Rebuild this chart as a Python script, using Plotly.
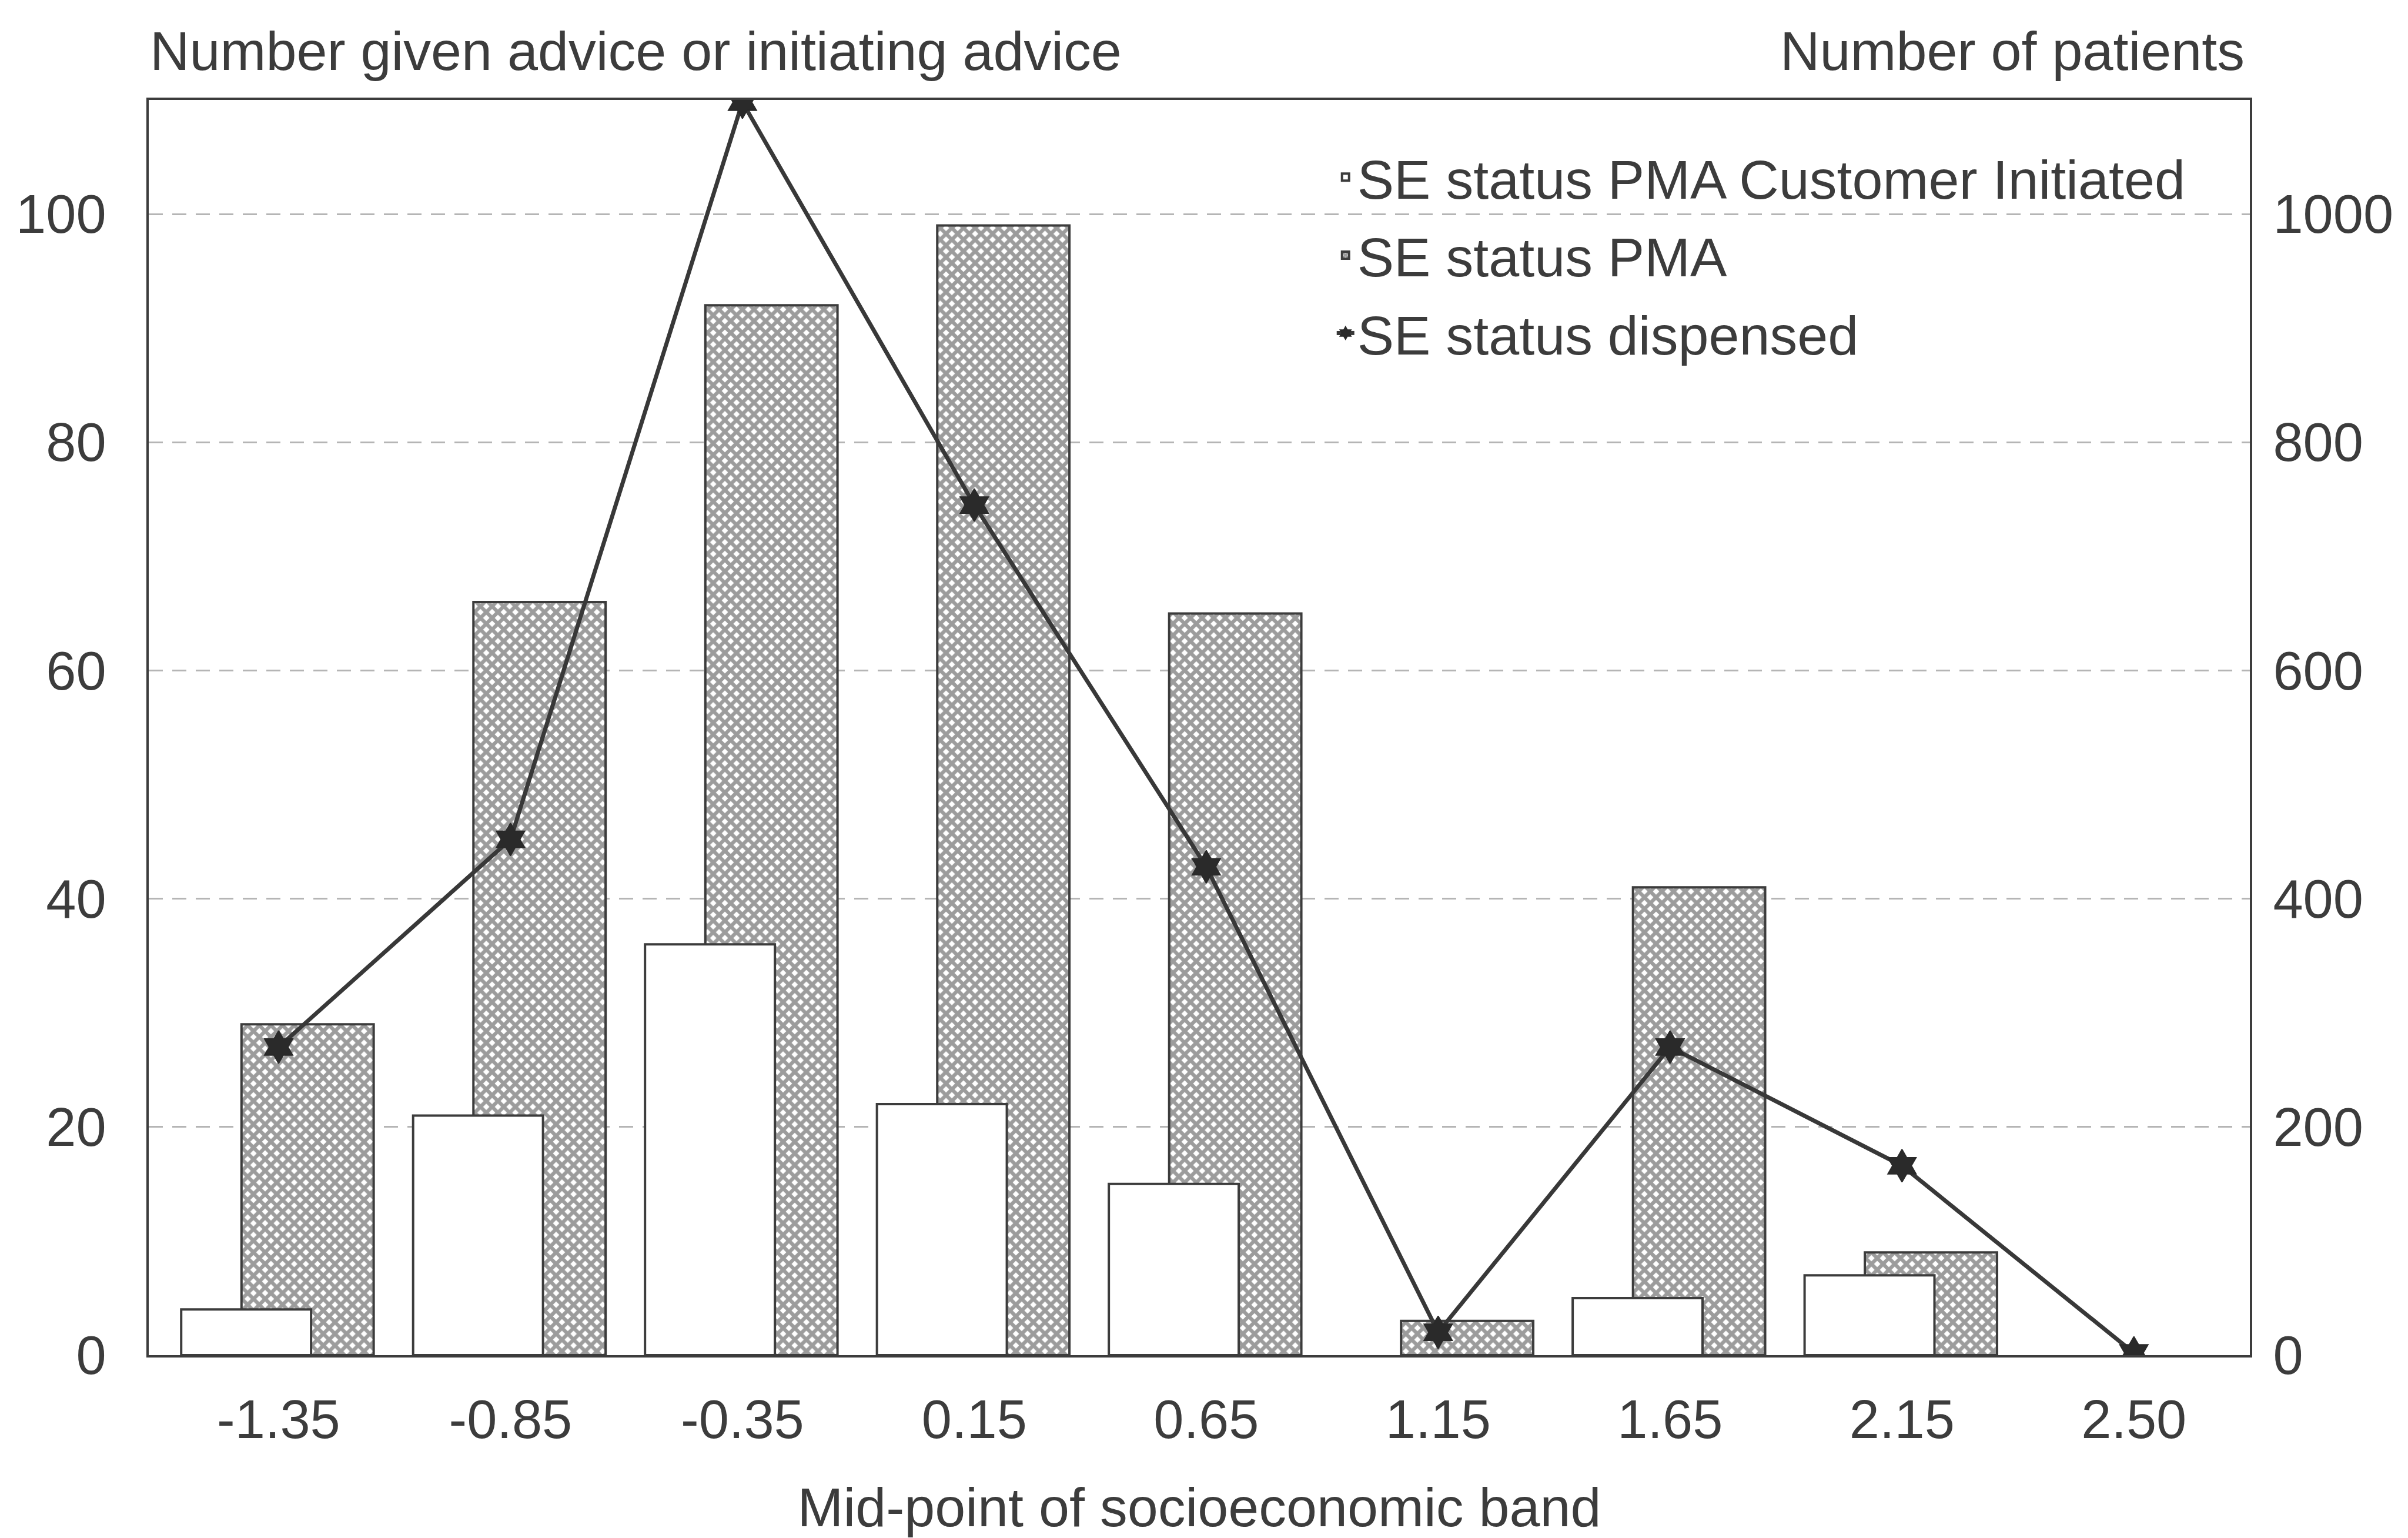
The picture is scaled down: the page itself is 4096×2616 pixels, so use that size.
import plotly.graph_objects as go

# Mid-point of each socioeconomic band (category labels)
bands = ["-1.35", "-0.85", "-0.35", "0.15", "0.65", "1.15", "1.65", "2.15", "2.50"]

# Number given advice (left axis); None where a band has no bar
customer_initiated = [4, 21, 36, 22, 15, None, 5, 7, None]
pma = [29, 66, 92, 99, 65, 3, 41, 9, None]

# Number of patients dispensed (right axis)
dispensed = [270, 452, 1098, 745, 428, 20, 270, 166, 2]

left_ticks = [0, 20, 40, 60, 80, 100]
right_ticks = [0, 200, 400, 600, 800, 1000]

FONT = "Liberation Sans, Arial, sans-serif"
INK = "#3c3c3c"
FS = 93.5
TICK_FS = 92

fig = go.Figure()

# Hatched PMA bars sit behind the customer-initiated bars
fig.add_trace(go.Bar(
    x=bands, y=pma, name="SE status PMA",
    offset=-0.16, width=0.57,
    marker=dict(color="white", line=dict(color=INK, width=4),
                pattern=dict(shape="x", size=14, solidity=0.7,
                             fgcolor="#3a3a3a", bgcolor="white")),
    legendrank=2, legendgroup="pma",
))
fig.add_trace(go.Bar(
    x=bands, y=customer_initiated, name="SE status PMA Customer Initiated",
    offset=-0.42, width=0.56,
    marker=dict(color="white", line=dict(color=INK, width=4)),
    legendrank=1, legendgroup="ci",
))
fig.add_trace(go.Scatter(
    x=bands, y=dispensed, name="SE status dispensed", yaxis="y2",
    mode="lines+markers",
    line=dict(color="#383838", width=7),
    marker=dict(symbol="hexagram", size=42, color="#2a2a2a",
                line=dict(color="#2a2a2a", width=2)),
    legendrank=3, legendgroup="disp",
))

fig.update_layout(
    width=4096, height=2616,
    margin=dict(l=253, r=269, t=170, b=311),
    paper_bgcolor="white", plot_bgcolor="white",
    barmode="overlay",
    font=dict(family=FONT, size=FS, color=INK),
    showlegend=True,
    legend=dict(x=0.564, y=0.97, xanchor="left", yanchor="top",
                bgcolor="rgba(0,0,0,0)", borderwidth=0,
                font=dict(size=FS, color=INK), itemwidth=30,
                tracegroupgap=8),
    xaxis=dict(
        type="category", range=[-0.56, 8.5],
        showline=True, mirror=True, linecolor=INK, linewidth=4,
        ticks="", showgrid=False, tickfont=dict(size=TICK_FS, color=INK),
        ticklabelstandoff=27,
        title=dict(text="Mid-point of socioeconomic band",
                   font=dict(size=FS, color=INK), standoff=74),
    ),
    yaxis=dict(
        range=[0, 110], tickvals=left_ticks,
        showline=True, mirror=False, linecolor=INK, linewidth=4,
        showgrid=True, gridcolor="#b5b5b5", gridwidth=3, griddash="24px,16px",
        zeroline=False, ticks="", tickfont=dict(size=TICK_FS, color=INK),
        ticklabelstandoff=50,
    ),
    yaxis2=dict(
        range=[0, 1100], tickvals=right_ticks, overlaying="y", side="right",
        showline=True, linecolor=INK, linewidth=4,
        showgrid=False, zeroline=False, ticks="",
        tickfont=dict(size=TICK_FS, color=INK), ticklabelstandoff=17,
    ),
    annotations=[
        dict(text="Number given advice or initiating advice",
             xref="paper", yref="paper", x=0, y=1.0, yshift=84,
             xanchor="left", yanchor="middle", showarrow=False,
             font=dict(size=FS, color=INK)),
        dict(text="Number of patients",
             xref="paper", yref="paper", x=0.998, y=1.0, yshift=84,
             xanchor="right", yanchor="middle", showarrow=False,
             font=dict(size=FS, color=INK)),
    ],
)

fig.write_html("out.html")
